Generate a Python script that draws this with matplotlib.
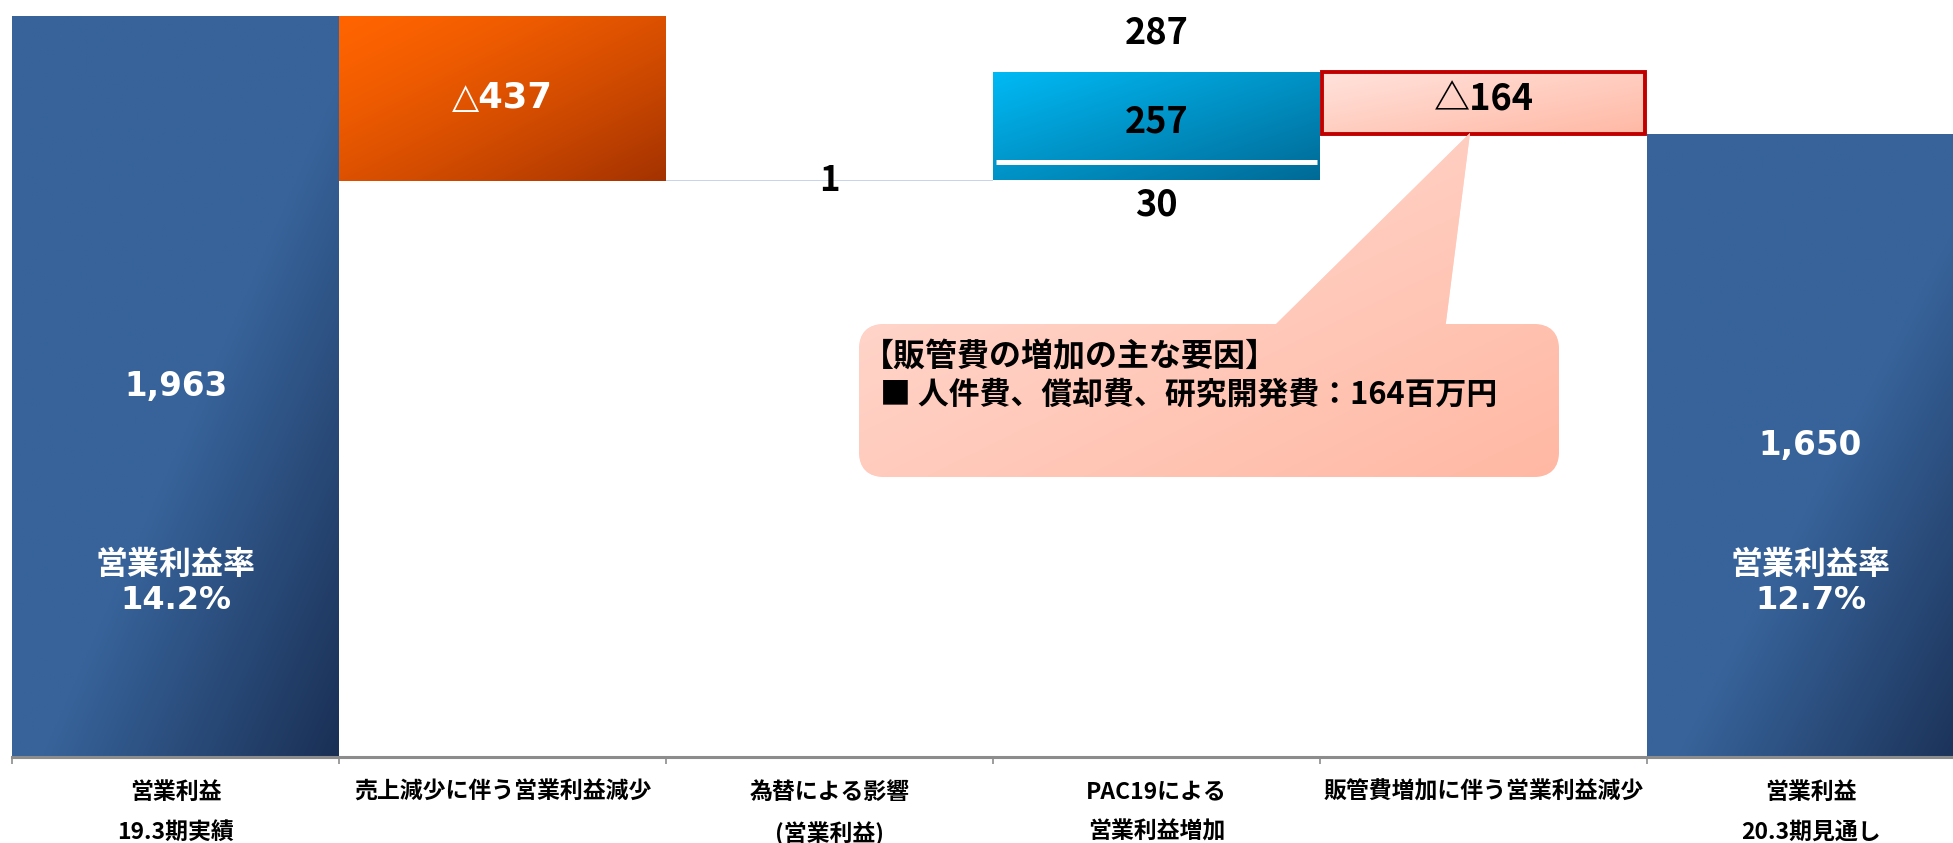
import numpy as np
import matplotlib
matplotlib.use("Agg")
import matplotlib.pyplot as plt
from matplotlib.patches import FancyBboxPatch, Polygon
from matplotlib.colors import to_rgb

plt.rcParams['font.family'] = ['DejaVu Sans', 'Noto Sans CJK JP']

# データ
categories = ['営業利益\n19.3期実績', '売上減少に伴う営業利益減少', '為替による影響\n(営業利益)',
              'PAC19による\n営業利益増加', '販管費増加に伴う営業利益減少', '営業利益\n20.3期見通し']
start_value = 1963
changes = [-437, 1, 287, -164]
end_value = 1650
pac19_parts = [257, 30]
rate_labels = ['14.2%', '12.7%']
change_labels = ['△437', '1', '287', '△164']
value_labels = ['1,963', '1,650']
note_title = '【販管費の増加の主な要因】'
note_body = '■ 人件費、償却費、研究開発費：164百万円'

W, H = 1953, 843
fig = plt.figure(figsize=(W / 100, H / 100), dpi=100)
ax = fig.add_axes([12 / W, 86.5 / H, (W - 12) / W, 756.5 / H])


def fill_gradient(ax, bar, c0, c1, mode='diag', power=1.0):
    x0, y0 = bar.get_x(), bar.get_y()
    w, h = bar.get_width(), bar.get_height()
    u, v = np.meshgrid(np.linspace(0, 1, 200), np.linspace(0, 1, 200))
    if mode == 'diag':
        t = ((u + v) / 2) ** power
    else:
        t = np.clip((u + v - 1.1) / 0.9, 0, 1)
    img = (1 - t)[..., None] * np.array(to_rgb(c0)) + t[..., None] * np.array(to_rgb(c1))
    im = ax.imshow(img, extent=[x0, x0 + w, y0, y0 + h], origin='upper', aspect='auto',
                   zorder=bar.get_zorder() + 0.1, interpolation='bilinear')
    im.set_clip_path(bar)
    return im


# 段差の計算
bottoms, heights = [], []
level = start_value
for ch in changes:
    bottoms.append(min(level, level + ch))
    heights.append(abs(ch))
    level += ch

# 両端の棒
ends = ax.bar([0, 5], [start_value, end_value], width=1.0, color='#36629A', zorder=2)
for b in ends:
    fill_gradient(ax, b, '#37639A', '#1A3055', mode='radial')

# 増減の棒
steps = ax.bar([1, 2, 3, 4], heights, bottom=bottoms, width=1.0, zorder=2)
steps[0].set_facecolor('#E05000')
fill_gradient(ax, steps[0], '#FF6400', '#A33200', power=1.4)
steps[1].set_facecolor('#C8D4E8')
steps[2].set_facecolor('#0096CF')
fill_gradient(ax, steps[2], '#00BAF5', '#006A96')
steps[3].set_facecolor('#FFCFC3')
fill_gradient(ax, steps[3], '#FFE3DD', '#FFB8A4')
ax.bar(4, heights[3], bottom=bottoms[3], width=0.99, fill=False,
       edgecolor='#C00000', linewidth=2.8, zorder=4)

# PAC19 の内訳の区切り線
pac_base = bottoms[2]
ax.hlines(pac_base + 48, 2.51, 3.49, color='white', linewidth=3.6, zorder=4)

# ラベル
for x, val, lab, rate in zip([0, 5], [start_value, end_value], value_labels, rate_labels):
    ax.text(x, val / 2, lab, ha='center', va='center', color='white',
            fontsize=23.5, fontweight='bold', zorder=5)
    ax.text(x, 460, '営業利益率\n' + rate, ha='center', va='center', color='white',
            fontsize=23, fontweight='bold', linespacing=1.2, zorder=5)

ax.text(1, bottoms[0] + heights[0] / 2, change_labels[0], ha='center', va='center',
        color='white', fontsize=25.5, fontweight='bold', zorder=5)
ax.text(2, bottoms[1], change_labels[1], ha='center', va='center', color='black',
        fontsize=25, fontweight='bold', family=['Noto Sans CJK JP'], zorder=5)
ax.annotate(change_labels[2], (3, bottoms[2] + heights[2]), xytext=(0, 28),
            textcoords='offset points', ha='center', va='center', color='black',
            fontsize=26, fontweight='bold', family=['Noto Sans CJK JP'], zorder=5)
ax.text(3, pac_base + 48 + (heights[2] - 48) / 2 - 12, str(pac19_parts[0]), ha='center',
        va='center', color='black', fontsize=26, fontweight='bold',
        family=['Noto Sans CJK JP'], zorder=5)
ax.annotate(str(pac19_parts[1]), (3, pac_base), xytext=(0, -17.5),
            textcoords='offset points', ha='center', va='center', color='black',
            fontsize=26, fontweight='bold', family=['Noto Sans CJK JP'], zorder=5)
ax.text(4, bottoms[3] + heights[3] / 2 + 8, change_labels[3], ha='center', va='center',
        color='black', fontsize=26, fontweight='bold', family=['Noto Sans CJK JP', 'DejaVu Sans'],
        zorder=5)

# 軸
for s in ['top', 'right', 'left']:
    ax.spines[s].set_visible(False)
ax.spines['bottom'].set_color('#8C8C8C')
ax.spines['bottom'].set_linewidth(2.2)
ax.spines['bottom'].set_zorder(6)
ax.set_yticks([])
ax.set_xticks(range(6))
ax.set_xticklabels(categories, fontsize=16.5, fontweight='bold', family=['Noto Sans CJK JP'],
                   linespacing=1.93)
ax.set_xticks(np.arange(-0.5, 6, 1), minor=True)
ax.tick_params(axis='x', which='major', length=0, pad=17.5)
ax.tick_params(axis='x', which='minor', length=5, width=1.2, color='#8C8C8C')
ax.set_xlim(-0.5, -0.5 + (W - 12) / 327)
ax.set_ylim(0, 756.5 / 0.37723)
ax.patch.set_alpha(0)

# 吹き出し（ピクセル座標）
ov = fig.add_axes([0, 0, 1, 1])
ov.axis('off')
ov.patch.set_alpha(0)
box = FancyBboxPatch((859, 324), 700, 153, boxstyle='round,pad=0,rounding_size=26',
                     facecolor='#FFCCC0', edgecolor='none', zorder=2)
tail = Polygon([(1270, 330), (1445, 330), (1470, 133)], closed=True,
               facecolor='#FFD3C9', edgecolor='none', zorder=2)
ov.add_patch(box)
ov.add_patch(tail)
u, v = np.meshgrid(np.linspace(0, 1, 200), np.linspace(0, 1, 200))
t = (u + v) / 2
grad = (1 - t)[..., None] * np.array(to_rgb('#FFDFD8')) + t[..., None] * np.array(to_rgb('#FFB8A3'))
for p in (box, tail):
    im = ov.imshow(grad, extent=[859, 1559, 477, 133], origin='upper', aspect='auto',
                   zorder=2.1, interpolation='bilinear')
    im.set_clip_path(p)
ov.text(862, 357, note_title, ha='left', va='center', fontsize=23, fontweight='bold',
        family=['Noto Sans CJK JP'], zorder=3)
ov.text(880, 395, note_body, ha='left', va='center', fontsize=22.2, fontweight='bold',
        family=['Noto Sans CJK JP'], zorder=3)
ov.set_xlim(0, W)
ov.set_ylim(H, 0)

fig.savefig('out.png', dpi=100)
